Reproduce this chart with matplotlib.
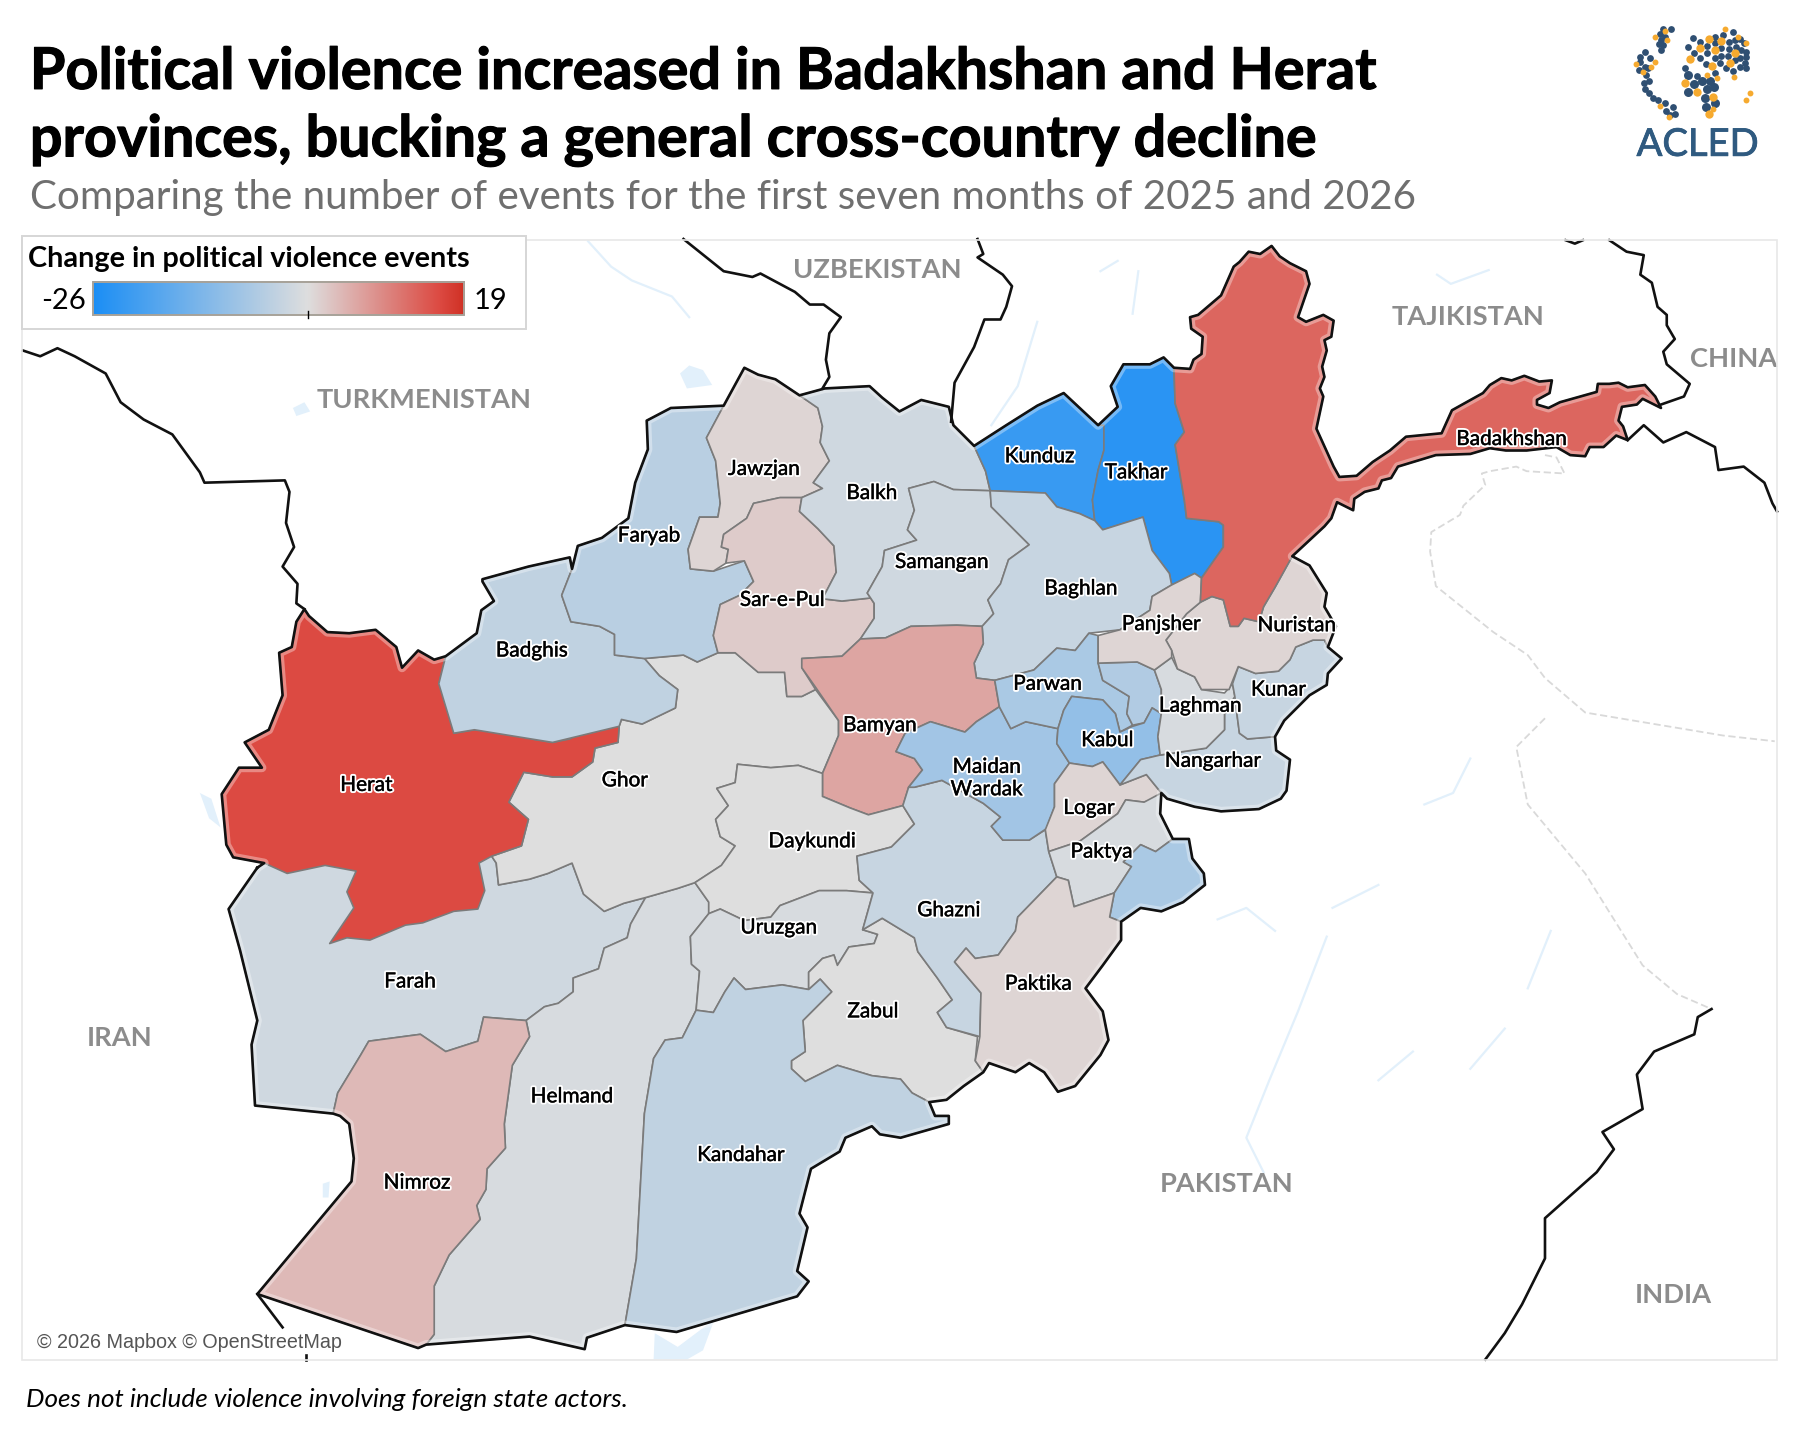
import numpy as np
import matplotlib
matplotlib.use("Agg")
import matplotlib.pyplot as plt
import matplotlib.patheffects as pe
from matplotlib.colors import LinearSegmentedColormap, Normalize
from matplotlib.patches import Polygon, Rectangle

plt.rcParams["font.family"] = ["Lato", "DejaVu Sans"]

# Province outlines (x, y on a 1567 x 1253 sheet)
herat = [(265,530),(269,536),(285,550),(304,551),(327,548),(345,563),(350,581),(364,566),(378,574),(388,571),(382,595),(391,605),(399,626),(395,638),(413,635),(442,635),(463,643),(481,646),(496,643),(516,630),(539,632),(538,646),(518,651),(516,663),(498,676),(481,676),(456,672),(443,698),(460,713),(454,736),(428,745),(417,751),(422,775),(416,791),(395,793),(368,803),(353,805),(322,818),(302,816),(287,821),(308,790),(302,776),(310,758),(283,753),(250,760),(230,751),(203,746),(197,735),(193,691),(208,668),(228,668),(213,646),(234,635),(246,605),(243,568),(254,563),(258,541)]
badghis = [(420,504),(460,493),(496,485),(498,495),(489,518),(497,541),(522,545),(535,552),(535,570),(561,573),(574,588),(590,600),(588,616),(559,630),(541,626),(539,632),(481,646),(413,635),(395,638),(382,595),(388,571),(415,551),(419,531),(430,523),(420,506)]
faryab = [(498,495),(503,475),(524,468),(547,451),(553,420),(564,391),(563,366),(584,355),(630,353),(615,381),(623,401),(627,438),(625,450),(609,450),(599,478),(601,495),(621,497),(648,488),(656,506),(644,518),(627,526),(621,553),(625,568),(607,576),(595,570),(561,573),(535,570),(535,552),(522,545),(497,541),(489,518)]
jawzjan = [(630,353),(648,320),(660,326),(675,330),(696,344),(712,355),(716,371),(714,385),(722,401),(708,420),(716,425),(698,433),(679,433),(656,438),(650,451),(630,465),(628,476),(634,478),(632,490),(621,497),(601,495),(599,478),(609,450),(625,450),(627,438),(623,401),(615,381)]
sar_e_pul = [(656,438),(679,433),(698,433),(696,445),(712,460),(726,475),(728,498),(716,521),(733,523),(761,520),(761,538),(749,556),(733,571),(698,573),(698,581),(710,600),(698,606),(685,606),(683,585),(660,585),(640,568),(625,568),(621,553),(627,526),(644,518),(656,506),(648,488),(632,490),(634,478),(628,476),(630,465),(650,451)]
balkh = [(696,344),(718,338),(757,336),(768,346),(783,358),(802,348),(826,354),(830,370),(848,388),(858,410),(862,427),(830,426),(813,419),(791,425),(796,444),(790,461),(798,470),(770,479),(768,493),(755,516),(761,525),(761,520),(733,523),(716,521),(728,498),(726,475),(712,460),(696,445),(698,433),(716,425),(708,420),(722,401),(714,385),(716,371),(712,355)]
samangan = [(791,425),(813,419),(830,426),(862,427),(863,441),(883,461),(896,474),(878,487),(871,508),(860,522),(865,534),(855,545),(833,544),(793,545),(771,555),(749,556),(761,538),(761,525),(755,516),(768,493),(770,479),(798,470),(790,461),(796,444)]
kunduz = [(848,388),(876,370),(903,353),(926,342),(956,370),(961,370),(961,392),(956,409),(951,435),(953,453),(940,447),(920,441),(910,429),(862,427),(858,410)]
takhar = [(956,370),(973,354),(967,336),(978,317),(1001,317),(1013,311),(1022,320),(1023,351),(1031,376),(1023,387),(1031,435),(1033,451),(1061,454),(1065,457),(1065,476),(1046,503),(1040,499),(1020,509),(1018,499),(1003,479),(995,450),(960,461),(953,453),(951,435),(956,409),(961,392),(961,370)]
baghlan = [(862,427),(910,429),(920,441),(940,447),(953,453),(960,461),(995,450),(1003,479),(1018,499),(1020,509),(1003,519),(1001,531),(975,548),(948,551),(936,566),(920,564),(900,583),(866,592),(850,590),(848,577),(856,560),(855,545),(865,534),(860,522),(871,508),(878,487),(896,474),(883,461),(863,441)]
bamyan = [(855,545),(856,560),(848,577),(850,590),(866,592),(870,615),(850,628),(840,637),(810,628),(788,638),(780,654),(796,660),(803,670),(791,685),(786,701),(756,709),(740,703),(716,693),(716,673),(730,640),(730,627),(710,598),(698,581),(698,573),(733,571),(749,556),(771,555),(793,545),(833,544)]
ghor = [(561,573),(595,570),(607,576),(625,568),(640,568),(660,585),(683,585),(685,606),(698,606),(710,600),(730,627),(730,640),(716,673),(695,666),(671,668),(642,665),(640,681),(624,686),(634,701),(623,713),(627,728),(640,736),(628,753),(605,768),(590,773),(562,781),(543,786),(526,793),(508,778),(498,751),(477,760),(461,765),(434,770),(432,751),(428,745),(454,736),(460,713),(443,698),(456,672),(481,676),(498,676),(516,663),(518,651),(538,646),(539,632),(541,626),(559,630),(588,616),(590,600),(574,588)]
daykundi = [(642,665),(671,668),(695,666),(716,673),(716,693),(740,703),(756,709),(786,701),(796,717),(776,737),(746,745),(748,766),(760,777),(737,775),(713,775),(679,788),(671,798),(648,801),(627,791),(617,795),(617,785),(605,768),(628,753),(640,736),(627,728),(623,713),(634,701),(624,686),(640,681)]
uruzgan = [(617,795),(601,815),(602,839),(609,845),(606,879),(621,881),(631,863),(639,851),(649,861),(681,857),(704,861),(704,846),(716,834),(726,831),(729,840),(739,824),(761,821),(764,813),(751,809),(760,777),(737,775),(713,775),(679,788),(671,798),(648,801),(627,791)]
zabul = [(768,799),(796,816),(799,828),(816,851),(829,870),(816,881),(824,894),(851,902),(849,923),(856,933),(839,945),(824,957),(809,959),(794,951),(784,939),(759,936),(729,927),(701,941),(689,930),(689,923),(701,915),(699,888),(711,876),(724,863),(714,852),(704,861),(704,846),(716,834),(726,831),(729,840),(739,824),(761,821),(764,813),(751,809)]
kandahar = [(639,851),(649,861),(681,857),(704,861),(714,852),(724,863),(711,876),(699,888),(701,915),(689,923),(689,930),(701,941),(729,927),(759,936),(784,939),(794,951),(809,959),(814,971),(826,971),(826,978),(784,990),(766,987),(759,980),(736,990),(731,1002),(706,1017),(696,1056),(703,1068),(694,1106),(704,1115),(694,1128),(589,1159),(544,1153),(554,1095),(561,969),(569,921),(579,905),(594,903),(606,879),(621,881),(631,863)]
helmand = [(562,781),(549,804),(546,816),(526,825),(521,843),(499,851),(499,863),(486,873),(474,876),(458,888),(461,902),(446,927),(439,978),(440,999),(424,1017),(423,1035),(415,1049),(418,1061),(391,1092),(378,1119),(378,1161),(371,1170),(461,1163),(509,1174),(511,1164),(544,1153),(554,1095),(561,969),(569,921),(579,905),(594,903),(606,879),(609,845),(602,839),(601,815),(617,795),(617,785),(605,768),(590,773)]
nimroz = [(321,906),(366,900),(388,915),(416,906),(421,885),(458,888),(461,902),(446,927),(439,978),(440,999),(424,1017),(423,1035),(415,1049),(418,1061),(391,1092),(378,1119),(378,1161),(371,1170),(364,1173),(224,1126),(306,1028),(308,1008),(304,978),(296,971),(290,969),(294,951),(314,918)]
farah = [(230,751),(224,755),(199,791),(209,827),(224,888),(219,909),(222,962),(290,969),(294,951),(314,918),(321,906),(366,900),(388,915),(416,906),(421,885),(458,888),(474,876),(486,873),(499,863),(499,851),(521,843),(526,825),(546,816),(549,804),(562,781),(543,786),(526,793),(508,778),(498,751),(477,760),(461,765),(434,770),(432,751),(428,745),(400,730),(300,730),(250,745)]
ghazni = [(786,701),(796,717),(776,737),(746,745),(748,766),(760,777),(751,809),(768,799),(796,816),(799,828),(816,851),(829,870),(816,881),(824,894),(853,902),(854,864),(831,837),(841,825),(849,834),(869,831),(884,810),(886,798),(920,763),(913,741),(910,722),(896,731),(873,731),(863,719),(871,711),(856,699),(820,679),(796,685),(791,685)]
maidan_wardak = [(788,638),(810,628),(840,637),(850,628),(870,615),(880,634),(893,628),(921,634),(920,647),(931,664),(918,682),(918,702),(911,721),(896,731),(873,731),(863,719),(871,711),(856,699),(820,679),(796,685),(791,685),(803,670),(796,660),(780,654)]
parwan = [(866,592),(900,583),(920,564),(936,566),(948,551),(956,553),(956,577),(960,592),(983,606),(981,621),(986,631),(975,637),(971,621),(960,609),(933,606),(926,618),(921,634),(893,628),(880,634),(870,615)]
kapisa = [(956,577),(990,576),(1005,583),(1011,600),(1011,621),(1003,616),(996,629),(986,631),(981,621),(983,606),(960,592)]
kabul = [(933,606),(960,609),(971,621),(975,637),(986,632),(996,629),(1003,616),(1011,621),(1008,641),(1010,657),(993,661),(975,683),(960,663),(951,667),(931,664),(920,647),(921,634),(926,618)]
logar = [(931,664),(951,667),(960,663),(975,683),(998,674),(1011,690),(1010,693),(996,698),(980,696),(973,708),(940,732),(913,741),(910,722),(918,702),(918,682)]
paktya = [(913,741),(940,732),(973,708),(980,696),(996,698),(1011,690),(1010,708),(1021,730),(1006,741),(993,735),(978,750),(985,754),(970,777),(935,789),(930,766),(920,763)]
khost = [(1021,730),(1035,730),(1038,747),(1048,760),(1049,770),(1030,785),(1011,793),(993,790),(976,802),(966,798),(970,777),(985,754),(978,750),(993,735),(1006,741)]
paktika = [(920,763),(930,766),(935,789),(970,777),(966,798),(976,802),(976,818),(960,840),(945,860),(960,880),(965,905),(958,918),(936,945),(921,950),(909,933),(896,925),(884,933),(861,925),(856,933),(849,923),(853,902),(854,864),(831,837),(841,825),(849,834),(869,831),(884,810),(886,798)]
nangarhar = [(975,683),(993,661),(1010,657),(1050,651),(1066,635),(1066,621),(1076,615),(1079,638),(1086,643),(1110,641),(1111,653),(1123,661),(1120,688),(1115,695),(1096,704),(1063,706),(1040,702),(1016,695),(1011,690),(998,674)]
laghman = [(1005,583),(1020,572),(1025,582),(1040,589),(1046,600),(1066,603),(1073,595),(1075,606),(1066,621),(1066,635),(1050,651),(1010,657),(1008,641),(1011,621),(1011,600)]
kunar = [(1078,580),(1093,586),(1113,584),(1123,574),(1128,563),(1143,557),(1153,557),(1156,563),(1168,573),(1156,586),(1155,596),(1140,605),(1118,627),(1110,641),(1086,643),(1079,638),(1076,615),(1075,606),(1073,595)]
nuristan = [(1045,524),(1055,519),(1065,522),(1071,545),(1078,545),(1083,538),(1096,541),(1100,528),(1110,511),(1125,484),(1140,492),(1155,516),(1153,528),(1163,545),(1156,563),(1153,557),(1143,557),(1128,563),(1123,574),(1113,584),(1093,586),(1078,580),(1070,600),(1046,600),(1040,589),(1025,582),(1020,566),(1015,557),(1033,534)]
panjsher = [(1020,509),(1040,499),(1046,503),(1045,524),(1033,534),(1015,557),(1020,566),(1020,572),(1005,583),(990,576),(956,577),(956,553),(975,548),(1001,531),(1003,519)]

# Northern edge and tail of Badakhshan, shared with the country outline
badakhshan_edge = [(1022,320),(1036,321),(1039,313),(1046,308),(1047,293),(1037,286),(1036,276),(1043,274),(1063,257),(1074,232),(1079,228),(1087,219),(1097,221),(1107,214),(1114,223),(1123,229),(1137,236),(1140,247),(1130,276),(1137,280),(1152,274),(1161,279),(1159,293),(1153,296),(1155,305),(1151,319),(1153,328),(1149,338),(1152,345),(1146,373),(1161,406),(1166,415),(1181,414),(1195,402),(1210,392),(1224,380),(1255,377),(1264,357),(1291,342),(1297,335),(1307,329),(1316,331),(1327,327),(1340,332),(1351,331),(1349,342),(1338,348),(1338,352),(1348,355),(1358,350),(1390,341),(1391,334),(1401,334),(1409,333),(1417,337),(1432,335),(1441,345),(1446,355),(1430,347),(1425,352),(1412,354),(1409,366),(1413,371),(1417,383),(1407,379),(1396,389),(1384,389),(1380,397),(1367,396),(1355,389),(1329,392),(1311,392),(1297,390),(1280,395),(1250,396),(1217,406),(1211,416),(1203,418),(1200,425),(1188,428),(1179,434),(1178,444),(1164,437),(1159,451),(1153,458),(1125,484)]
badakhshan = badakhshan_edge + [(1110,511),(1100,528),(1096,541),(1083,538),(1078,545),(1071,545),(1065,522),(1055,519),(1045,524),(1046,503),(1065,476),(1065,457),(1061,454),(1033,451),(1031,435),(1023,387),(1031,376),(1023,351)]

# Same order in all of these lists
province_shapes = [farah, helmand, ghor, herat, badghis, faryab, jawzjan, sar_e_pul, balkh, samangan, kunduz, takhar, baghlan, bamyan, daykundi, uruzgan, zabul, kandahar, nimroz, ghazni, maidan_wardak, parwan, kapisa, kabul, logar, paktya, khost, paktika, nangarhar, laghman, kunar, nuristan, panjsher, badakhshan]
province_change = [-2, -1, 0, 16, -4, -5, 1, 2, -2, -2, -22, -24, -3, 6, 0, -1, 0, -4, 4, -3, -8, -7, -6, -10, 1, -1, -7, 1, -3, -1, -3, 1, 1, 13]

label_names = ["Jawzjan","Balkh","Kunduz","Takhar","Badakhshan","Faryab","Samangan","Baghlan","Sar-e-Pul","Panjsher","Nuristan","Badghis","Parwan","Kunar","Laghman","Bamyan","Kabul","Nangarhar","Maidan\nWardak","Ghor","Herat","Logar","Daykundi","Paktya","Ghazni","Uruzgan","Farah","Paktika","Zabul","Helmand","Kandahar","Nimroz"]
label_x = [665,759,905,989,1316,565,820,941,681,1011,1129,463,912,1113,1045,766,964,1056,859,544,319,948,707,959,826,678,357,904,760,498,645,363]
label_y = [408,429,397,411,382,466,489,512,522,543,544,566,595,600,614,631,644,662,677,679,683,703,732,741,792,807,854,856,880,954,1005,1029]

country_names = ["UZBEKISTAN","TAJIKISTAN","TURKMENISTAN","CHINA","IRAN","PAKISTAN","INDIA"]
country_x = [764,1278,369,1509,104,1068,1457]
country_y = [235,276,348,312,903,1030,1127]

afghan_border = [(224,755),(230,751),(203,746),(197,735),(193,691),(208,668),(228,668),(213,646),(234,635),(246,605),(243,568),(254,563),(258,541),(265,530),(269,536),(285,550),(304,551),(327,548),(345,563),(350,581),(364,566),(378,574),(388,571),(415,551),(419,531),(430,523),(420,506),(420,504),(460,493),(496,485),(498,495),(503,475),(524,468),(547,451),(553,420),(564,391),(563,366),(584,355),(630,353),(648,320),(660,326),(675,330),(696,344),(718,338),(757,336),(768,346),(783,358),(802,348),(826,354),(830,370),(848,388),(876,370),(903,353),(926,342),(956,370),(973,354),(967,336),(978,317),(1001,317),(1013,311)] + badakhshan_edge + [(1140,492),(1155,516),(1153,528),(1163,545),(1156,563),(1168,573),(1156,586),(1155,596),(1140,605),(1118,627),(1110,641),(1111,653),(1123,661),(1120,688),(1115,695),(1096,704),(1063,706),(1040,702),(1016,695),(1011,690),(1010,708),(1021,730),(1035,730),(1038,747),(1048,760),(1049,770),(1030,785),(1011,793),(993,790),(976,802),(976,818),(960,840),(945,860),(960,880),(965,905),(958,918),(936,945),(921,950),(909,933),(896,925),(884,933),(861,925),(856,933),(839,945),(824,957),(809,959),(814,971),(826,971),(826,978),(784,990),(766,987),(759,980),(736,990),(731,1002),(706,1017),(696,1056),(703,1068),(694,1106),(704,1115),(694,1128),(589,1159),(544,1153),(511,1164),(509,1174),(461,1163),(371,1170),(364,1173),(224,1126),(306,1028),(308,1008),(304,978),(296,971),(290,969),(222,962),(219,909),(224,888),(209,827),(199,791),(224,755)]

# Neighbouring borders
border_lines = [
    [(20,305),(35,310),(50,303),(65,310),(92,325),(105,350),(125,365),(150,378),(174,411),(178,420),(248,418),(252,428),(249,455),(256,476),(246,493),(259,508),(258,525),(265,530)],
    [(595,208),(630,236),(655,241),(662,238),(692,254),(705,265),(717,265),(732,276),(722,290),(719,313),(722,328),(716,338)],
    [(851,208),(856,221),(851,224),(873,239),(881,249),(876,267),(871,278),(857,278),(848,302),(831,333),(828,367)],
    [(1363,209),(1371,212),(1378,209)],
    [(1401,209),(1416,219),(1431,222),(1428,239),(1438,246),(1443,267),(1451,274),(1451,283),(1458,295),(1448,306),(1451,317),(1471,334),(1466,345),(1446,352)],
    [(1417,383),(1431,370),(1448,385),(1468,376),(1493,389),(1496,409),(1518,406),(1536,420),(1543,438),(1547,445)],
    [(1490,878),(1478,885),(1475,900),(1440,915),(1425,935),(1430,965),(1395,985),(1405,1000),(1390,1020),(1345,1060),(1345,1095),(1335,1115),(1325,1135),(1310,1160),(1293,1183)],
    [(224,1126),(246,1155)],
    [(266,1179),(266,1183)],
]
dashed_lines = [
    [(1345,396),(1355,398),(1362,412),(1329,410),(1320,406),(1297,410),(1290,412),(1293,422),(1274,440),(1271,448),(1246,463),(1245,480),(1250,510),(1300,550),(1330,570),(1345,590),(1380,620),(1440,630),(1500,640),(1545,645)],
    [(1345,625),(1320,650),(1330,700),(1380,760),(1430,840),(1460,865),(1490,878)],
]
river_lines = [
    [(512,210),(532,232),(550,244),(585,258),(600,276)],
    [(973,227),(958,236)],[(991,236),(986,273)],[(903,280),(886,336),(863,370)],
    [(1251,239),(1263,247),(1296,235)],
    [(1280,660),(1265,690),(1240,700)],
    [(1155,815),(1130,880),(1105,940),(1085,990),(1100,1020)],
    [(1200,940),(1230,915)],[(1310,895),(1280,930)],[(1350,810),(1330,860)],
    [(1060,800),(1085,790),(1110,810)],[(1160,790),(1200,770)],
]
lake_shapes = [
    [(592,325),(600,318),(612,322),(620,335),(598,338)],
    [(255,355),(265,350),(270,358),(258,362)],
    [(174,690),(184,695),(192,720),(182,712)],
    [(281,1030),(287,1028),(286,1042),(281,1042)],
    [(569,1183),(570,1160),(590,1172),(622,1148),(612,1175),(598,1183)],
]

# ACLED logo dots, as measured on a 3x crop of the logo corner
logo_navy = [(120,58),(135,65),(125,75),(118,88),(130,90),(125,105),(155,42),(130,42),(60,125),(75,110),(60,140),(75,155),(90,130),(58,165),(85,160),(80,180),(88,198),(72,205),(75,222),(88,235),(100,248),(115,255),(135,265),(160,277),(140,288),(165,297),(150,300),(220,68),(240,80),(205,95),(222,115),(240,130),(262,92),(262,115),(287,65),(287,85),(285,128),(305,100),(305,122),(328,82),(328,103),(325,122),(345,75),(360,72),(372,85),(350,97),(365,105),(380,110),(345,135),(360,130),(378,125),(318,160),(340,168),(360,155),(375,143),(380,160),(300,145),(258,148),(195,158),(232,183),(285,175),(340,50),(310,60)]
logo_navy_big = [(205,180),(222,207),(248,197),(270,197),(262,222),(283,215),(205,232),(255,250),(285,265),(260,275)]
logo_orange = [(137,48),(143,75),(105,65),(48,148),(70,172),(93,155),(107,142),(122,273),(147,305),(355,65),(315,42),(378,85),(343,185),(262,180),(292,190),(280,283),(378,255),(390,235)]
logo_orange_big = [(267,72),(240,100),(285,105),(305,78),(345,115),(210,132),(278,153),(330,145),(195,203),(233,230),(280,245),(267,297)]

cmap = LinearSegmentedColormap.from_list("change", [(0, "#1b8ef5"), (26/45, "#dedede"), (42/45, "#dc4a42"), (1, "#cf3024")])
norm = Normalize(-26, 19)

fig = plt.figure(figsize=(18, 14.4), dpi=100)
ax = fig.add_axes([0, 0, 1, 1])
ax.axis("off")

frame = Rectangle((19, 209), 1528, 974, fill=False, edgecolor="#e8e8e8", linewidth=1.2, zorder=8)
ax.add_patch(frame)

for line in river_lines:
    xs, ys = zip(*line)
    ax.plot(xs, ys, color="#e2f0fb", linewidth=1.6, zorder=1)
for shape in lake_shapes:
    ax.add_patch(Polygon(shape, closed=True, facecolor="#e2f0fb", edgecolor="none", zorder=1))
for line in dashed_lines:
    xs, ys = zip(*line)
    ax.plot(xs, ys, color="#d9d9d9", linewidth=1.3, linestyle=(0, (4, 2)), zorder=1)

for shape, change in zip(province_shapes, province_change):
    ax.add_patch(Polygon(shape, closed=True, facecolor=cmap(norm(change)), edgecolor="#7b7b7b", linewidth=1.2, joinstyle="round", zorder=2))

xs, ys = zip(*afghan_border)
ax.plot(xs, ys, color="white", alpha=0.35, linewidth=6.5, solid_joinstyle="round", zorder=3)
ax.plot(xs, ys, color="#111111", linewidth=1.9, solid_joinstyle="round", zorder=4)
for line in border_lines:
    xs, ys = zip(*line)
    ax.plot(xs, ys, color="#111111", linewidth=1.9, solid_joinstyle="round", zorder=4)

for name, x, y in zip(country_names, country_x, country_y):
    ax.text(x, y, name, ha="center", va="center", fontsize=19.6, fontweight="bold", color="#8c8c8c", zorder=5)

halo = [pe.Stroke(linewidth=3, foreground="white"), pe.Stroke(linewidth=0.3, foreground="black"), pe.Normal()]
for name, x, y in zip(label_names, label_x, label_y):
    ax.text(x, y, name, ha="center", va="center", fontsize=15, color="black", linespacing=1.15, path_effects=halo, zorder=6)

ax.text(32, 1168, "© 2026 Mapbox © OpenStreetMap", family="Liberation Sans", fontsize=14.2, color="#555555", va="center", ha="left", zorder=7,
        bbox=dict(facecolor="white", alpha=0.7, edgecolor="none", pad=1.5))

# Titles
heavy = [pe.Stroke(linewidth=0.8, foreground="black"), pe.Normal()]
ax.text(26, 63, "Political violence increased in Badakhshan and Herat", fontsize=41.4, fontweight="bold", color="black", va="center", ha="left", path_effects=heavy)
ax.text(26, 122, "provinces, bucking a general cross-country decline", fontsize=41.4, fontweight="bold", color="black", va="center", ha="left", path_effects=heavy)
ax.text(26, 172, "Comparing the number of events for the first seven months of 2025 and 2026", fontsize=29.1, color="#6f6f6f", va="center", ha="left")
ax.text(23, 1218, "Does not include violence involving foreign state actors.", fontsize=18.85, style="italic", color="black", va="center", ha="left")

# Legend
ax.add_patch(Rectangle((19, 205), 439, 81, facecolor="white", edgecolor="#d6d6d6", linewidth=1.4, zorder=9))
ax.text(24, 225, "Change in political violence events", fontsize=20.7, fontweight="bold", color="black", va="center", ha="left", zorder=10)
ramp = np.linspace(-26, 19, 256).reshape(1, -1)
ax.imshow(ramp, cmap=cmap, norm=norm, extent=(81, 404, 274, 245), aspect="auto", zorder=10)
ax.add_patch(Rectangle((81, 245), 323, 29, fill=False, edgecolor="#a7a299", linewidth=1.4, zorder=11))
ax.plot([268, 268], [271, 277], color="black", linewidth=1, zorder=12)
ax.text(75, 262, "-26", fontsize=21, color="black", va="center", ha="right", zorder=10)
ax.text(412, 262, "19", fontsize=21, color="black", va="center", ha="left", zorder=10)

# Logo
for dots, size, colour in [(logo_navy, 24, "#2f4f72"), (logo_navy_big, 42, "#2f4f72"), (logo_orange, 18, "#f6aa2f"), (logo_orange_big, 36, "#f6aa2f")]:
    xs = [1410 + x / 3.447 for x, y in dots]
    ys = [13 + y / 3.447 for x, y in dots]
    ax.scatter(xs, ys, s=size, color=colour, linewidths=0, zorder=5)
ax.text(1478, 126, "ACLED", fontsize=27.5, color="#2f5a80", va="center", ha="center", path_effects=[pe.Stroke(linewidth=0.6, foreground="#2f5a80"), pe.Normal()])

ax.set_xlim(0, 1567)
ax.set_ylim(1253, 0)
fig.savefig("out.png", dpi=100)
